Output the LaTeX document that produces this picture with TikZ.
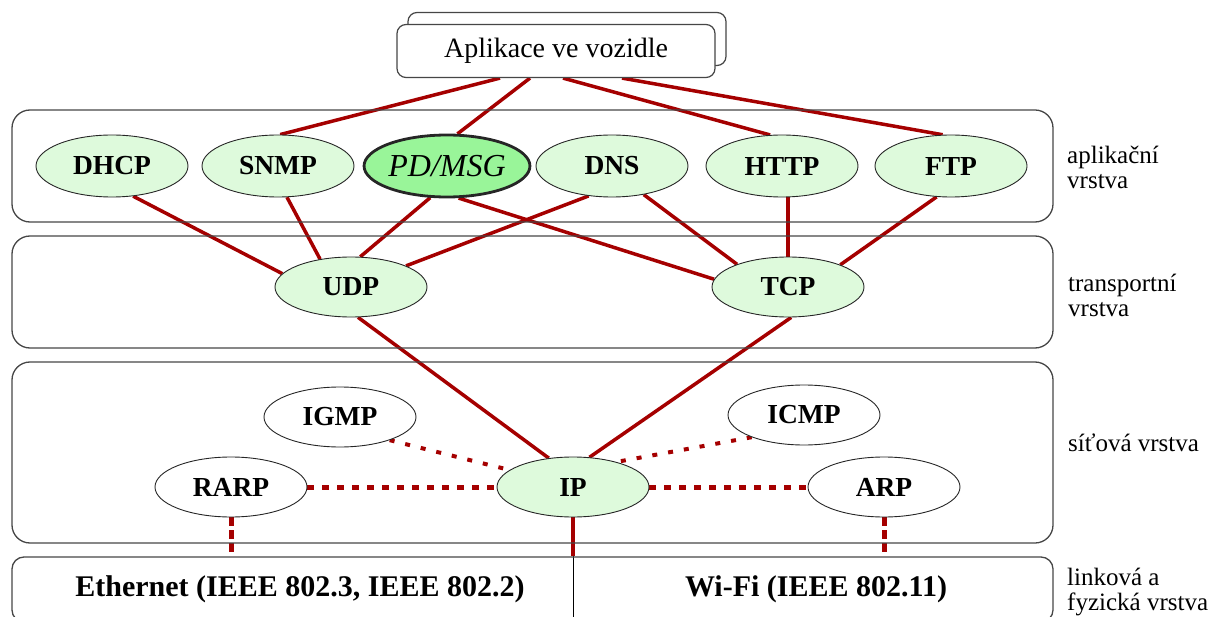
\documentclass[tikz,border=0pt]{standalone}
\usepackage{fontspec}
\setmainfont{Liberation Serif}
\usetikzlibrary{shapes.geometric,calc}
\definecolor{linkred}{RGB}{165,0,0}
\definecolor{protofill}{RGB}{222,250,220}
\definecolor{pdfill}{RGB}{153,245,153}
\definecolor{boxgray}{RGB}{70,70,70}
\pgfdeclarelayer{bg}
\pgfsetlayers{bg,main}
\begin{document}
\begin{tikzpicture}[x=1pt,y=-1pt,
  proto/.style={ellipse, draw=black!85, line width=0.9pt, fill=protofill,
    minimum width=152pt, minimum height=62pt, inner sep=0pt,
    font=\fontsize{27.5}{29}\selectfont\bfseries},
  netproto/.style={proto, fill=white},
  layerbox/.style={draw=boxgray, line width=1.3pt, rounded corners=18pt, inner sep=0pt},
  appbox/.style={draw=boxgray, line width=1.2pt, rounded corners=9pt, fill=white,
    minimum width=318pt, minimum height=53pt, inner sep=0pt},
  conn/.style={draw=linkred, line width=3.5pt},
  dotconn/.style={draw=linkred, line width=5pt, dash pattern=on 7pt off 8pt},
  thindot/.style={draw=linkred, line width=4pt, dash pattern=on 5pt off 11pt},
  vdash/.style={draw=linkred, line width=5pt, dash pattern=on 9pt off 4pt},
  layerlabel/.style={anchor=west, align=left, inner sep=0pt, font=\fontsize{25}{25}\selectfont},
  linktext/.style={font=\fontsize{30}{32}\selectfont\bfseries}]
\useasboundingbox (0,0) rectangle (1214,617);

% layer boxes
\node[layerbox, minimum width=1041pt, minimum height=112pt] (applayer) at (532.5,166) {};
\node[layerbox, minimum width=1041pt, minimum height=112pt] (translayer) at (532.5,292) {};
\node[layerbox, minimum width=1041pt, minimum height=181pt] (netlayer) at (532.5,452.5) {};
\node[layerbox, rounded corners=12pt, minimum width=1041pt, minimum height=65pt] (linklayer) at (532.5,589.5) {};

% application box
\node[appbox] (appback) at (567,39) {};
\node[appbox, font=\fontsize{28}{30}\selectfont] (app) at (556,51) {Aplikace ve vozidle};

% application protocols
\node[proto] (dhcp) at (112,166) {DHCP};
\node[proto] (snmp) at (278,166) {SNMP};
\node[proto, fill=pdfill, line width=2.8pt, font=\fontsize{32}{34}\selectfont\itshape] (pd) at (447,166) {PD/MSG};
\node[proto] (dns) at (612,166) {DNS};
\node[proto] (http) at (782,166) {HTTP};
\node[proto] (ftp) at (951,166) {FTP};

% transport
\node[proto, minimum height=60pt] (udp) at (351,287) {UDP};
\node[proto, minimum height=60pt] (tcp) at (788,287) {TCP};

% network
\node[netproto, minimum height=60pt] (igmp) at (340,417) {IGMP};
\node[netproto, minimum height=60pt] (icmp) at (804,415) {ICMP};
\node[netproto, minimum height=60pt] (rarp) at (231,487) {RARP};
\node[proto, minimum height=60pt] (ip) at (573,487) {IP};
\node[netproto, minimum height=60pt] (arp) at (884,487) {ARP};

% link texts
\node[linktext] (eth) at (300,589) {Ethernet (IEEE 802.3, IEEE 802.2)};
\node[linktext] (wifi) at (816,589) {Wi-Fi (IEEE 802.11)};

% layer labels
\node[layerlabel] (lbl1) at (1067,167) {aplikační\\vrstva};
\node[layerlabel] (lbl2) at (1068,295) {transportní\\vrstva};
\node[layerlabel] (lbl3) at (1068,443) {síťová vrstva};
\node[layerlabel] (lbl4) at (1067,592) {linková a\\fyzická vrstva};

\begin{pgfonlayer}{bg}
% app to protocols
\draw[conn] ([xshift=-56pt]app.south) -- (snmp.86);
\draw[conn] ([xshift=-26pt]app.south) -- (pd.72);
\draw[conn] ([xshift=7pt]app.south) -- (http.111);
\draw[conn] ([xshift=66pt]app.south) -- (ftp.105);
% application to transport
\draw[conn] (dhcp.-55) -- (udp.169);
\draw[conn] (snmp.-74) -- (udp.138);
\draw[conn] (pd.-118) -- (udp.73);
\draw[conn] (dns.-128) -- (udp.21);
\draw[conn] (pd.-70) -- (tcp.174);
\draw[conn] (dns.-42) -- (tcp.156);
\draw[conn] (tcp.north) -- (tcp.north |- http.south);
\draw[conn] (ftp.-115) -- (tcp.23);
% transport to IP
\draw[conn] (udp.-77) -- (ip.130);
\draw[conn] (tcp.-84) -- (ip.61);
% network dotted
\draw[thindot] (igmp.-25) -- (ip.165);
\draw[thindot] (icmp.-157) -- (ip.30);
\draw[dotconn] (rarp.east) -- (ip.west);
\draw[dotconn] (ip.east) -- (arp.west);
% down to link layer
\draw[vdash] (rarp.south) -- (rarp.south |- linklayer.north);
\draw[vdash] (arp.south) -- (arp.south |- linklayer.north);
\draw[conn] (ip.south) -- (ip.south |- linklayer.north);
\draw[black, line width=1pt] (ip.south |- linklayer.north) -- (ip.south |- linklayer.south);
\end{pgfonlayer}
\end{tikzpicture}
\end{document}
